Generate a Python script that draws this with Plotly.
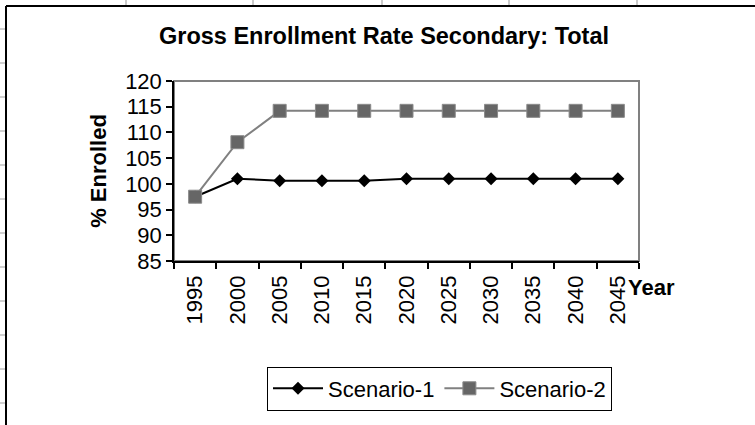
import plotly.graph_objects as go

years = ["1995", "2000", "2005", "2010", "2015", "2020", "2025", "2030", "2035", "2040", "2045"]
scenario_1 = [97.5, 101.0, 100.6, 100.6, 100.6, 101.0, 101.0, 101.0, 101.0, 101.0, 101.0]
scenario_2 = [97.5, 108.1, 114.2, 114.2, 114.2, 114.2, 114.2, 114.2, 114.2, 114.2, 114.2]
y_ticks = [85, 90, 95, 100, 105, 110, 115, 120]

W, H = 755, 425
# plot area in pixels
L, R, T, B = 174, 639, 81, 261
FONT = "Arial, Liberation Sans, sans-serif"


def px(x):
    return (x - L) / (R - L)


def py(y):
    return (B - y) / (B - T)


fig = go.Figure()
fig.add_trace(go.Scatter(
    x=years, y=scenario_1, name="Scenario-1", mode="lines+markers",
    line=dict(color="black", width=2),
    marker=dict(symbol="diamond", size=10, color="black"),
))
fig.add_trace(go.Scatter(
    x=years, y=scenario_2, name="Scenario-2", mode="lines+markers",
    line=dict(color="#808080", width=2),
    marker=dict(symbol="square", size=13, color="#666666", line=dict(color="#8a8a8a", width=1)),
))

shapes = [
    # plot area border
    dict(type="rect", xref="paper", yref="paper", x0=0, x1=1, y0=0, y1=1,
         line=dict(color="#808080", width=2), layer="below"),
    # chart area border (top and left)
    dict(type="line", xref="paper", yref="paper", x0=px(6), x1=px(W), y0=py(6), y1=py(6),
         line=dict(color="black", width=2)),
    dict(type="line", xref="paper", yref="paper", x0=px(6), x1=px(6), y0=py(6), y1=py(H),
         line=dict(color="black", width=2)),
]
# spreadsheet gridlines peeking out around the chart
for gx in [126, 253, 382, 509, 637]:
    shapes.append(dict(type="line", xref="paper", yref="paper", x0=px(gx), x1=px(gx),
                       y0=py(0), y1=py(5), line=dict(color="#b8b8b8", width=1.5)))
for gy in [29, 63, 97, 131, 165, 199, 233, 267, 301, 335, 369, 403]:
    shapes.append(dict(type="line", xref="paper", yref="paper", x0=px(0), x1=px(5),
                       y0=py(gy), y1=py(gy), line=dict(color="#c0c0c0", width=1.5)))

fig.update_layout(
    width=W, height=H,
    margin=dict(l=L, r=W - R, t=T, b=H - B, pad=0),
    paper_bgcolor="white", plot_bgcolor="white",
    font=dict(family=FONT, size=22, color="black"),
    title=dict(text="<b>Gross Enrollment Rate Secondary: Total</b>",
               font=dict(size=23.5), xref="container", yref="container",
               x=384 / W, y=1 - 36 / H, xanchor="center", yanchor="middle"),
    showlegend=True,
    legend=dict(orientation="h", x=px(439.5), y=py(388.5), xanchor="center", yanchor="middle",
                bordercolor="black", borderwidth=1, bgcolor="white", font=dict(size=22),
                itemwidth=50),
    shapes=shapes,
    annotations=[dict(text="<b>Year</b>", xref="paper", yref="paper", x=px(626), y=py(287),
                      xanchor="left", yanchor="middle", showarrow=False, font=dict(size=22))],
)
fig.update_xaxes(
    type="category", range=[-0.5, len(years) - 0.5], tickson="boundaries",
    ticks="outside", ticklen=6, tickcolor="black", tickwidth=1.5,
    showline=True, linecolor="black", linewidth=1.5, showgrid=False, zeroline=False,
    tickangle=-90, tickfont=dict(size=22), ticklabelstandoff=4,
    automargin=False, fixedrange=True,
)
fig.update_yaxes(
    range=[85, 120], tickvals=y_ticks, ticks="outside", ticklen=6, tickcolor="black", tickwidth=1.5,
    showline=True, linecolor="black", linewidth=1.5, showgrid=False, zeroline=False,
    tickfont=dict(size=22), automargin=False, fixedrange=True,
    title=dict(text="<b>% Enrolled</b>", font=dict(size=22), standoff=12),
)

# drop the browser's default page margin so the figure sits at the window corner
fig.write_html(
    "out.html",
    config={"displayModeBar": False},
    post_script="document.body.style.margin = '0'; document.body.style.overflow = 'hidden';",
)
